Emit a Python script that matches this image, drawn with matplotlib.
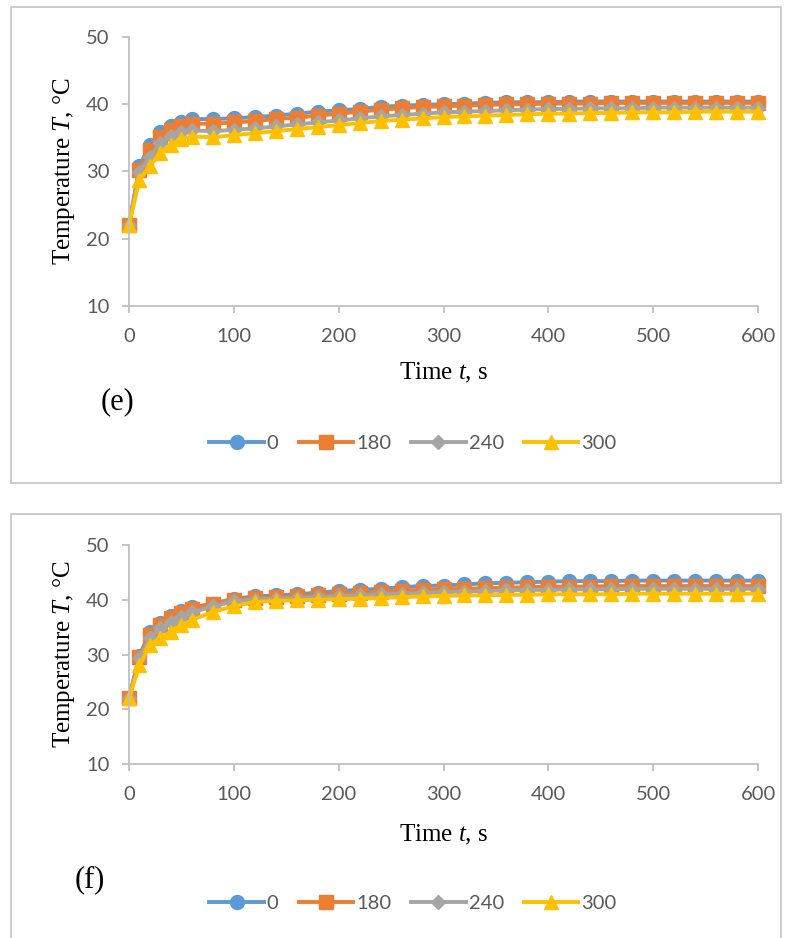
import matplotlib
matplotlib.use("Agg")
import matplotlib.pyplot as plt
from matplotlib.patches import Rectangle

plt.rcParams["mathtext.fontset"] = "custom"
plt.rcParams["mathtext.rm"] = "Liberation Serif"
plt.rcParams["mathtext.it"] = "Liberation Serif:italic"

# time points, s
t = [0, 10, 20, 30, 40, 50, 60, 80, 100, 120, 140, 160, 180, 200, 220, 240,
     260, 280, 300, 320, 340, 360, 380, 400, 420, 440, 460, 480, 500, 520,
     540, 560, 580, 600]

series_names = ["0", "180", "240", "300"]

# case (e)
e_0 = [22.0, 30.8, 34.0, 35.8, 36.8, 37.4, 37.8, 37.8, 37.9, 38.1, 38.3, 38.6,
       38.9, 39.1, 39.3, 39.6, 39.8, 39.9, 40.0, 40.1, 40.2, 40.3, 40.3, 40.3,
       40.4, 40.4, 40.4, 40.4, 40.4, 40.4, 40.4, 40.4, 40.4, 40.4]
e_180 = [22.0, 30.2, 33.2, 35.2, 36.2, 36.8, 37.1, 37.1, 37.3, 37.5, 37.8, 38.0,
         38.3, 38.6, 38.9, 39.2, 39.4, 39.6, 39.7, 39.8, 39.9, 40.0, 40.0, 40.1,
         40.1, 40.1, 40.2, 40.2, 40.2, 40.2, 40.2, 40.2, 40.2, 40.2]
e_240 = [22.0, 29.9, 32.2, 34.2, 35.3, 35.9, 36.1, 36.0, 36.2, 36.4, 36.7, 37.0,
         37.3, 37.6, 37.9, 38.2, 38.4, 38.6, 38.8, 38.9, 39.0, 39.1, 39.2, 39.3,
         39.3, 39.4, 39.4, 39.4, 39.5, 39.5, 39.5, 39.5, 39.5, 39.5]
e_300 = [22.0, 28.8, 30.8, 32.7, 34.0, 34.9, 35.2, 35.1, 35.4, 35.7, 36.0, 36.3,
         36.6, 36.9, 37.2, 37.5, 37.7, 37.9, 38.1, 38.2, 38.3, 38.4, 38.5, 38.6,
         38.6, 38.7, 38.7, 38.8, 38.8, 38.8, 38.9, 38.9, 38.9, 38.9]

# case (f)
f_0 = [22.0, 29.8, 34.2, 35.8, 37.0, 37.9, 38.6, 39.3, 40.2, 40.6, 40.8, 41.0,
       41.3, 41.6, 41.8, 42.0, 42.3, 42.5, 42.6, 42.8, 43.0, 43.1, 43.2, 43.3,
       43.4, 43.4, 43.4, 43.5, 43.5, 43.5, 43.5, 43.5, 43.5, 43.5]
f_180 = [22.0, 29.6, 33.6, 35.3, 36.7, 37.6, 38.4, 39.2, 40.0, 40.3, 40.5, 40.6,
         40.8, 41.0, 41.2, 41.4, 41.6, 41.8, 41.9, 42.0, 42.1, 42.2, 42.3, 42.4,
         42.4, 42.4, 42.5, 42.5, 42.5, 42.5, 42.5, 42.5, 42.5, 42.5]
f_240 = [22.0, 29.3, 33.0, 34.8, 36.0, 36.9, 37.7, 38.8, 39.7, 40.0, 40.2, 40.3,
         40.5, 40.6, 40.8, 41.0, 41.1, 41.2, 41.4, 41.5, 41.6, 41.7, 41.8, 41.8,
         41.9, 41.9, 41.9, 42.0, 42.0, 42.0, 42.0, 42.0, 42.0, 42.0]
f_300 = [22.0, 28.0, 31.8, 33.0, 34.2, 35.3, 36.3, 37.8, 38.8, 39.6, 39.8, 39.9,
         40.0, 40.1, 40.2, 40.3, 40.5, 40.6, 40.7, 40.8, 40.8, 40.9, 40.9, 41.0,
         41.0, 41.0, 41.0, 41.1, 41.1, 41.1, 41.1, 41.1, 41.1, 41.1]

colors = ["#5B9BD5", "#ED7D31", "#A5A5A5", "#FFC000"]
markers = ["o", "s", "D", "^"]
msizes = [10, 9.5, 7, 10.5]
grey_text = "#595959"
axis_grey = "#BFBFBF"


def draw_panel(fig, rect, data, letter, letter_xy, legend_y, xlabel_y):
    ax = fig.add_axes(rect)
    for vals, c, m, ms, name in zip(data, colors, markers, msizes, series_names):
        ax.plot(t, vals, color=c, lw=2.8, marker=m, ms=ms, mec=c, mfc=c,
                label=name, clip_on=False)
    ax.set_xlim(0, 600)
    ax.set_ylim(10, 50)
    ax.set_xticks(range(0, 601, 100))
    ax.set_yticks(range(10, 51, 10))
    for s in ["top", "right"]:
        ax.spines[s].set_visible(False)
    for s in ["left", "bottom"]:
        ax.spines[s].set_color(axis_grey)
        ax.spines[s].set_linewidth(1.3)
    ax.tick_params(direction="out", length=5, width=1.3, color=axis_grey,
                   labelcolor=grey_text, labelsize=14.5)
    ax.tick_params(axis="x", pad=11)
    ax.tick_params(axis="y", pad=9)
    for lab in ax.get_xticklabels() + ax.get_yticklabels():
        lab.set_fontfamily("Lato")
    ax.set_xlabel("Time $t$, s", fontsize=18, family="Liberation Serif")
    ax.set_ylabel("Temperature $T$, °C", fontsize=18, family="Liberation Serif")
    ax.xaxis.set_label_coords(0.5, xlabel_y)
    ax.yaxis.set_label_coords(-0.083, 0.5)
    fig.text(letter_xy[0], letter_xy[1], letter, fontsize=22,
             family="Liberation Serif", ha="center", va="center")
    leg = ax.legend(loc="center", bbox_to_anchor=(413 / 794, legend_y),
                    bbox_transform=fig.transFigure, ncol=4, frameon=False,
                    handlelength=2.7, columnspacing=1.0, handletextpad=0.15,
                    prop={"family": "Lato", "size": 14.5})
    for txt in leg.get_texts():
        txt.set_color(grey_text)
    return ax


fig = plt.figure(figsize=(7.94, 9.38), dpi=100)

# outer chart borders
fig.patches.append(Rectangle((11 / 794, 1 - 483 / 938), 770 / 794, 476 / 938,
                             transform=fig.transFigure, fill=False,
                             ec="#C8C8C8", lw=1.3))
fig.patches.append(Rectangle((11 / 794, -0.05), 770 / 794, 0.05 + 1 - 514 / 938,
                             transform=fig.transFigure, fill=False,
                             ec="#C8C8C8", lw=1.3))

draw_panel(fig, [129 / 794, 1 - 306 / 938, 629 / 794, 269 / 938],
           [e_0, e_180, e_240, e_300], "(e)", (117 / 794, 1 - 402 / 938),
           1 - 443 / 938, -0.205)
draw_panel(fig, [129 / 794, 1 - 764 / 938, 629 / 794, 219 / 938],
           [f_0, f_180, f_240, f_300], "(f)", (90 / 794, 1 - 880 / 938),
           1 - 903 / 938, -0.27)

fig.savefig("out.png", dpi=100)
